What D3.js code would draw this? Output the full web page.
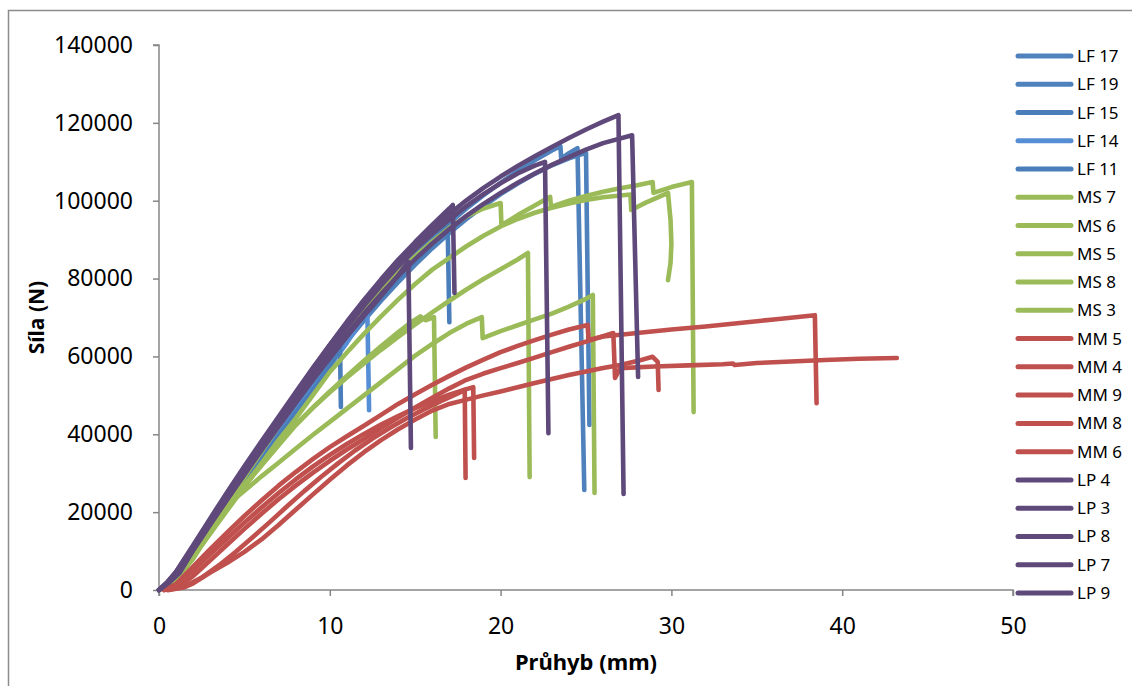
<!DOCTYPE html>
<html>
<head>
<meta charset="utf-8">
<script src="https://cdn.jsdelivr.net/npm/d3@7"></script>
<style>
  html, body { margin: 0; padding: 0; background: #fff; }
  svg { display: block; }
  .tick text { font-family: "Noto Sans", "Open Sans", sans-serif; font-size: 23px; fill: #000; }
</style>
</head>
<body>
<svg id="chart" width="1132" height="686"></svg>
<script>
// Axis ticks
const xTicks = [0, 10, 20, 30, 40, 50];
const yTicks = [0, 20000, 40000, 60000, 80000, 100000, 120000, 140000];

// Legend order and series names
const seriesNames = ["LF 17", "LF 19", "LF 15", "LF 14", "LF 11",
                     "MS 7", "MS 6", "MS 5", "MS 8", "MS 3",
                     "MM 5", "MM 4", "MM 9", "MM 8", "MM 6",
                     "LP 4", "LP 3", "LP 8", "LP 7", "LP 9"];

// Load–deflection records: [deflection mm, force N]
const LF17 = [[0,0],[0.7,2000],[1.3,5000],[2,9500],[3,16000],[4,22500],[5,29000],[6,35300],[7,41500],[8,47600],[9,53700],[10,59700],[11,65500],[12,71000],[13,76300],[14,81300],[15,86000],[16,90300],[17,94300],[18,98000],[19,101400],[20,104600],[21,107600],[22,110400],[23,112900],[23.5,114000],[23.55,110800],[24,112200],[24.5,113500],[24.9,25700]];
const LF19 = [[0,0],[0.7,1900],[1.3,4800],[2,9300],[3,15700],[4,22100],[5,28500],[6,34700],[7,40800],[8,46800],[9,52700],[10,58400],[11,63900],[12,69200],[13,74300],[14,79100],[15,83600],[16,87800],[17,91700],[18,95300],[19,98600],[20,101700],[21,104400],[22,106900],[23,109100],[24,110900],[25,112300],[25.2,42400]];
const LF15 = [[0,0],[0.7,2000],[1.3,5000],[2,9600],[3,16100],[4,22600],[5,29000],[6,35300],[7,41400],[8,47400],[9,53300],[10,59000],[11,64600],[12,70000],[13,75100],[14,80000],[15,84600],[16,89000],[16.9,93500],[17.0,68800]];
const LF14 = [[0,0],[0.7,1800],[1.3,4500],[2,9000],[3,15200],[4,21500],[5,27800],[6,34000],[7,40000],[8,46000],[9,51800],[10,57500],[11,63500],[12,70300],[12.2,71100],[12.3,46200]];
const LF11 = [[0,0],[0.7,1800],[1.3,4500],[2,9000],[3,15000],[4,21200],[5,27400],[6,33500],[7,39500],[8,45500],[9,51300],[10,57400],[10.6,62400],[10.65,47000]];

const MS7 = [[0,0],[0.7,1800],[1.4,5500],[2,9800],[3,16000],[4,22500],[5,29000],[6,35500],[7,42000],[8,48500],[9,55000],[10,61000],[11,66600],[12,71800],[13,76800],[14,81500],[15,85700],[16,89500],[17,93000],[18,96000],[19,98000],[20,99400],[20.05,93700],[21,96300],[22,98800],[22.9,101000],[22.95,98400],[24,100000],[25,101200],[26,102300],[27,103200],[28,104000],[28.9,104800],[28.95,102000],[30,103500],[31.2,104800],[31.3,45700]];
const MS6 = [[0,0],[0.7,1800],[1.5,5500],[2,8500],[3,14500],[4,20500],[5,26500],[6,32500],[7,38500],[8,44000],[9,50000],[10,56000],[11,61000],[12,65800],[13,70300],[14,74600],[15,78600],[16,82300],[17,85300],[18,88300],[19,91000],[20,93400],[21,95300],[22,96900],[23,98200],[24,99300],[25,100200],[26,100900],[27.6,101600],[27.65,97600],[28.5,99500],[29.8,102000],[29.95,95000],[30.0,89000],[29.95,84000],[29.8,79600]];
const MS5 = [[0,0],[0.7,1800],[1.5,5500],[2,8600],[3,15000],[4,21300],[5,27000],[6,32300],[7,37500],[8,42500],[9,46800],[10,50800],[11,54600],[12,58200],[13,61700],[14,65000],[15,68200],[16,71300],[17,74300],[18,77200],[19,79900],[20,82400],[21,84900],[21.6,86600],[21.7,29000]];
const MS8 = [[0,0],[0.7,1800],[1.5,5300],[2,8000],[3,15000],[4,21500],[4.35,23100],[5,25500],[6,29200],[7,32700],[8,36300],[9,39800],[10,43200],[11,46600],[12,50000],[13,53400],[14,56800],[15,60200],[16,63200],[17,66000],[18,68400],[18.9,70100],[18.95,64700],[20,66500],[21,68000],[22,69500],[23,71000],[24,72800],[25,74800],[25.4,75800],[25.5,24900]];
const MS3 = [[0,0],[0.7,1800],[1.5,5400],[2,8500],[3,14800],[4,21000],[5,26700],[6,32000],[7,37200],[8,42300],[9,46800],[10,51000],[11,55000],[12,58900],[13,62600],[14,66200],[14.7,68600],[15.3,70300],[15.6,69300],[16.1,70100],[16.2,39300]];

const MM5 = [[0.3,0],[1,1500],[2,6000],[3,10500],[4,14800],[5,19000],[6,23000],[7,26800],[8,30300],[9,33600],[10,36700],[11,39500],[12,42200],[13,45000],[14,47800],[15,50300],[16,52700],[17,55000],[18,57200],[19,59200],[20,61100],[21,62700],[22,64200],[23,65600],[24,66900],[25.1,68100],[25.15,64200],[26,65100],[28,66000],[30,66900],[32,67700],[34,68600],[36,69500],[38.4,70600],[38.5,48000]];
const MM4 = [[0.5,0],[1.2,900],[2,3600],[3,7600],[4,11700],[5,15700],[6,19600],[7,23300],[8,26800],[9,30100],[10,33200],[11,36100],[12,38800],[13,41600],[14,44300],[15,46900],[16,49400],[17,51800],[18,54000],[19,55600],[20,57000],[21,58300],[22,59700],[23,61100],[24,62500],[25,63800],[26,65200],[26.6,66000],[26.7,54500],[27,57000],[29,57400],[31,57700],[33,58000],[33.6,58200],[33.7,57800],[35,58300],[37,58700],[39,59100],[41,59400],[43.2,59600]];
const MM9 = [[0.6,0],[1.5,700],[2,1700],[3,4500],[4,7000],[5,9800],[6,13000],[7,16700],[8,20600],[9,24500],[10,28300],[11,32000],[12,35400],[13,38500],[14,41300],[15,43800],[16,46100],[17,47800],[18,48900],[19,50000],[20,51000],[21,52100],[22,53200],[23,54200],[24,55200],[25,56100],[26,57000],[27,57800],[28,58800],[28.9,59900],[29.2,58600],[29.25,51400]];
const MM8 = [[0.5,0],[1.5,900],[2.5,3200],[3.5,6300],[4.5,9800],[5.5,13600],[6.5,17500],[7.5,21500],[8.5,25400],[9.5,29100],[10.5,32600],[11.5,35900],[12.5,38900],[13.5,41600],[14.5,44100],[15.5,46400],[16.5,48500],[17.5,50500],[17.9,51400],[17.95,28800]];
const MM6 = [[0.3,0],[1,1200],[2,5000],[3,9200],[4,13300],[5,17300],[6,21200],[7,24900],[8,28400],[9,31700],[10,34700],[11,37500],[12,40100],[13,42500],[14,44700],[15,46700],[16,48500],[17,50200],[18,51600],[18.4,52100],[18.45,33900]];

const LP4 = [[0,0],[0.5,2000],[1,4600],[2,11300],[3,18200],[4,25000],[5,31500],[6,37900],[7,44200],[8,50500],[9,56800],[10,62900],[11,68700],[12,74200],[13,79400],[14,84300],[15,88700],[16,92800],[17,96600],[18,100100],[19,103300],[20,106200],[21,108900],[22,111400],[23,113800],[24,116100],[25,118300],[26,120300],[26.9,122000],[27.2,24700]];
const LP3 = [[0,0],[0.6,2000],[1.2,4500],[2,10200],[3,16800],[4,23300],[5,29700],[6,36000],[7,42200],[8,48300],[9,54300],[10,60100],[11,65700],[12,71000],[13,76000],[14,80700],[15,85000],[16,89000],[17,92700],[18,96100],[19,99200],[20,102000],[21,104600],[22,107000],[23,109200],[24,111200],[25,113100],[26,114800],[27.7,116800],[28.05,54700]];
const LP8 = [[0,0],[0.5,1900],[1,4400],[2,11000],[3,17800],[4,24500],[5,31000],[6,37300],[7,43500],[8,49700],[9,55800],[10,61800],[11,67500],[12,73000],[13,78200],[14,83100],[15,87500],[16,91500],[17,95200],[18,98600],[19,101700],[20,104500],[21,107000],[22,109000],[22.6,110000],[22.8,40300]];
const LP7 = [[0,0],[0.5,2100],[1,4700],[2,11500],[3,18400],[4,25200],[5,31800],[6,38200],[7,44500],[8,50800],[9,57000],[10,63000],[11,68900],[12,74500],[13,79800],[14,84800],[15,89400],[16,93800],[17,98000],[17.2,98900],[17.3,76300]];
const LP9 = [[0,0],[0.6,2000],[1.2,4400],[2,10300],[3,16900],[4,23400],[5,29700],[6,35900],[7,42000],[8,48000],[9,53900],[10,59600],[11,65100],[12,70400],[13,75500],[14,80800],[14.6,84300],[14.75,36500]];

const seriesValues = [LF17, LF19, LF15, LF14, LF11,
                      MS7, MS6, MS5, MS8, MS3,
                      MM5, MM4, MM9, MM8, MM6,
                      LP4, LP3, LP8, LP7, LP9];

const seriesColors = ["#4f81bd", "#4f81bd", "#4a7ebb", "#558ed5", "#4a7ebb",
                      "#9bbb59", "#9bbb59", "#9bbb59", "#9bbb59", "#9bbb59",
                      "#c0504d", "#c0504d", "#c0504d", "#c0504d", "#c0504d",
                      "#5f497a", "#5f497a", "#5f497a", "#5f497a", "#5f497a"];

const svg = d3.select("#chart");
const plot = { left: 159, right: 1013, top: 45, bottom: 590 };

const x = d3.scaleLinear().domain([0, 50]).range([plot.left, plot.right]);
const y = d3.scaleLinear().domain([0, 140000]).range([plot.bottom, plot.top]);

// Chart frame
svg.append("rect")
  .attr("x", 8.5).attr("y", 10.5)
  .attr("width", 1140).attr("height", 700)
  .attr("fill", "#fff")
  .attr("stroke", "#8c8c8c").attr("stroke-width", 1.5);

// Axes
const axisColor = "#868686";
const yAxis = svg.append("g")
  .attr("transform", `translate(${plot.left},0)`)
  .call(d3.axisLeft(y).tickValues(yTicks).tickSize(6).tickPadding(20).tickFormat(d3.format("d")));
const xAxis = svg.append("g")
  .attr("transform", `translate(0,${plot.bottom})`)
  .call(d3.axisBottom(x).tickValues(xTicks).tickSize(6).tickPadding(22).tickFormat(d3.format("d")));

[yAxis, xAxis].forEach(g => {
  g.select(".domain").attr("stroke", axisColor).attr("stroke-width", 1.5);
  g.selectAll(".tick line").attr("stroke", axisColor).attr("stroke-width", 1.5);
});
yAxis.select(".domain").attr("d", `M-6,${plot.top}H0V${plot.bottom}`);
xAxis.select(".domain").attr("d", `M${plot.left},6V0H${plot.right}V6`);

// Axis titles
svg.append("text")
  .attr("transform", `translate(44,${(plot.top + plot.bottom) / 2}) rotate(-90)`)
  .attr("text-anchor", "middle")
  .attr("font-family", "'Noto Sans', 'Open Sans', sans-serif")
  .attr("font-weight", "bold").attr("font-size", 21)
  .text("Síla (N)");

svg.append("text")
  .attr("x", (plot.left + plot.right) / 2).attr("y", 670)
  .attr("text-anchor", "middle")
  .attr("font-family", "'Noto Sans', 'Open Sans', sans-serif")
  .attr("font-weight", "bold").attr("font-size", 22)
  .text("Průhyb (mm)");

// Series lines
const line = d3.line().x(d => x(d[0])).y(d => y(d[1]));
svg.append("g").selectAll("path")
  .data(seriesValues)
  .join("path")
  .attr("d", line)
  .attr("fill", "none")
  .attr("stroke", (d, i) => seriesColors[i])
  .attr("stroke-width", 4.6)
  .attr("stroke-linejoin", "round")
  .attr("stroke-linecap", "round");

// Legend
const legend = svg.append("g");
const legendRow = i => 56 + i * 28.26;
seriesNames.forEach((name, i) => {
  const ly = legendRow(i);
  legend.append("line")
    .attr("x1", 1018).attr("x2", 1071)
    .attr("y1", ly).attr("y2", ly)
    .attr("stroke", seriesColors[i])
    .attr("stroke-width", 5)
    .attr("stroke-linecap", "round");
  legend.append("text")
    .attr("x", 1077).attr("y", ly + 6)
    .attr("font-family", "'Noto Sans', 'Open Sans', sans-serif")
    .attr("font-size", 17)
    .text(name);
});
</script>
</body>
</html>
